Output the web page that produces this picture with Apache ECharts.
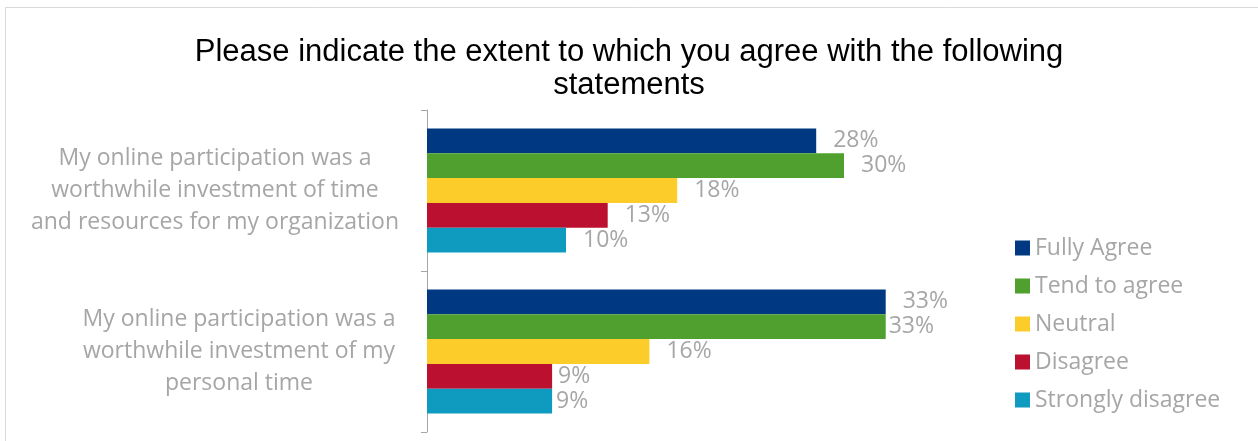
<!DOCTYPE html>
<html>
<head>
<meta charset="utf-8">
<script src="https://cdn.jsdelivr.net/npm/echarts@6/dist/echarts.min.js"></script>
<style>
  html, body { margin: 0; padding: 0; background: #ffffff; }
  #chart { width: 1258px; height: 441px; }
</style>
</head>
<body>
<div id="chart"></div>
<script>
// Survey statements (top to bottom)
const statements = [
  'My online participation was a\nworthwhile investment of time\nand resources for my organization',
  'My online participation was a\nworthwhile investment of my\npersonal time'
];
// Answer options, in legend order
const answers = ['Fully Agree', 'Tend to agree', 'Neutral', 'Disagree', 'Strongly disagree'];
// Share of respondents (%) per answer, one value per statement
const fullyAgree = [28, 33];
const tendToAgree = [30, 33];
const neutral = [18, 16];
const disagree = [13, 9];
const stronglyDisagree = [10, 9];

const seriesValues = [fullyAgree, tendToAgree, neutral, disagree, stronglyDisagree];
const colors = ['#003882', '#4fa02e', '#fccd2a', '#bb1030', '#0e9bbf'];
// Gap between bar end and its value label, per answer and statement
const labelGaps = [[17, 17], [17, 3], [17, 17], [17, 6], [17, 4]];
const GREY = '#a6a6a6';
const FONT = '"Open Sans", "Noto Sans", sans-serif';
const FS = 23;

// Category label blocks: lines centred inside a block whose right edge sits by the axis
const blockWidths = [370, 322];

const chart = echarts.init(document.getElementById('chart'), null, { renderer: 'canvas' });

chart.setOption({
  backgroundColor: '#ffffff',
  animation: false,
  color: colors,
  graphic: [{
    type: 'rect',
    silent: true,
    shape: { x: 5.5, y: 7.5, width: 1300, height: 500 },
    style: { fill: 'none', stroke: '#d9d9d9', lineWidth: 1 }
  }],
  title: {
    text: 'Please indicate the extent to which you agree with the following\nstatements',
    left: 'center',
    top: 31,
    textStyle: {
      fontFamily: '"Liberation Sans", Arial, sans-serif',
      fontSize: 31,
      fontWeight: 'normal',
      color: '#000000',
      lineHeight: 33
    }
  },
  legend: {
    orient: 'vertical',
    left: 1010,
    top: 231,
    itemWidth: 15,
    itemHeight: 15,
    itemGap: 14,
    icon: 'rect',
    data: answers,
    textStyle: { fontFamily: FONT, fontSize: FS, color: GREY, lineHeight: 24 }
  },
  grid: { left: 427, top: 110, width: 556, bottom: 9, containLabel: false },
  xAxis: {
    type: 'value',
    min: 0,
    max: 40,
    show: false
  },
  yAxis: {
    type: 'category',
    inverse: true,
    data: statements,
    axisLine: { show: true, lineStyle: { color: '#a6a6a6', width: 1 } },
    axisTick: { show: true, length: 6, lineStyle: { color: '#a6a6a6' } },
    axisLabel: {
      margin: 27,
      align: 'right',
      formatter: function (v, i) {
        const key = 'b' + i;
        return v.split('\n').map(function (l) { return '{' + key + '|' + l + '}'; }).join('\n');
      },
      rich: {
        b0: { width: blockWidths[0], align: 'center', fontFamily: FONT, fontSize: FS, color: GREY, lineHeight: 32 },
        b1: { width: blockWidths[1], align: 'center', fontFamily: FONT, fontSize: FS, color: GREY, lineHeight: 32 }
      }
    },
    splitLine: { show: false }
  },
  series: answers.map(function (name, k) {
    return {
      name: name,
      type: 'bar',
      barGap: '0%',
      barCategoryGap: '23%',
      data: seriesValues[k].map(function (v, i) {
        return { value: v, label: { distance: labelGaps[k][i] } };
      }),
      itemStyle: { color: colors[k] },
      label: {
        show: true,
        position: 'right',
        formatter: '{c}%',
        fontFamily: FONT,
        fontSize: FS,
        color: GREY
      }
    };
  })
});
</script>
</body>
</html>
